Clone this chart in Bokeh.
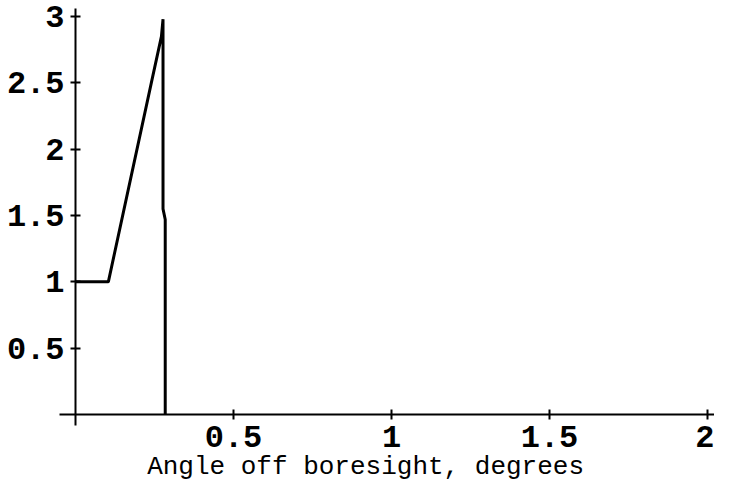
from bokeh.plotting import figure
from bokeh.models import Range1d, FixedTicker, Label
from bokeh.embed import file_html
from bokeh.resources import INLINE

# data
angle = [0.0, 0.104, 0.24, 0.272, 0.277, 0.277, 0.284, 0.284]
value = [1.0, 1.0, 2.5, 2.85, 2.98, 1.55, 1.47, 0.0]

x_ticks = [0.5, 1, 1.5, 2]
y_ticks = [0.5, 1, 1.5, 2, 2.5, 3]
x_label = "Angle off boresight, degrees"

# extents of the axis lines (data units)
x_axis_bounds = (-0.05, 2.03)
y_axis_bounds = (-0.08, 3.06)

FONT = "Liberation Mono"

p = figure(width=714, height=482, output_backend="svg", toolbar_location=None,
           x_range=Range1d(-0.2373, 2.0222), y_range=Range1d(-0.5126, 3.1206),
           min_border=0)
p.outline_line_color = None
p.grid.visible = False
p.background_fill_color = "white"
p.border_fill_color = "white"

p.xaxis.fixed_location = 0
p.yaxis.fixed_location = 0
p.xaxis.bounds = x_axis_bounds
p.yaxis.bounds = y_axis_bounds
p.xaxis.ticker = FixedTicker(ticks=x_ticks)
p.yaxis.ticker = FixedTicker(ticks=y_ticks)
for ax in (p.xaxis, p.yaxis):
    ax.axis_line_color = "black"
    ax.axis_line_width = 2
    ax.major_tick_line_color = "black"
    ax.major_tick_line_width = 2
    ax.major_tick_in = 5
    ax.major_tick_out = 5
    ax.minor_tick_line_color = None
    ax.major_label_text_font = FONT
    ax.major_label_text_font_size = "32px"
    ax.major_label_text_font_style = "bold"
    ax.major_label_text_color = "black"
p.xaxis.major_label_standoff = 7
p.yaxis.major_label_standoff = 6

p.line(angle, value, line_color="black", line_width=3)

p.add_layout(Label(x=0.918, y=-0.395, text=x_label, text_font=FONT,
                   text_font_size="26px", text_align="center", text_baseline="middle",
                   text_color="black"))

open("out.html", "w").write(file_html(p, INLINE))
